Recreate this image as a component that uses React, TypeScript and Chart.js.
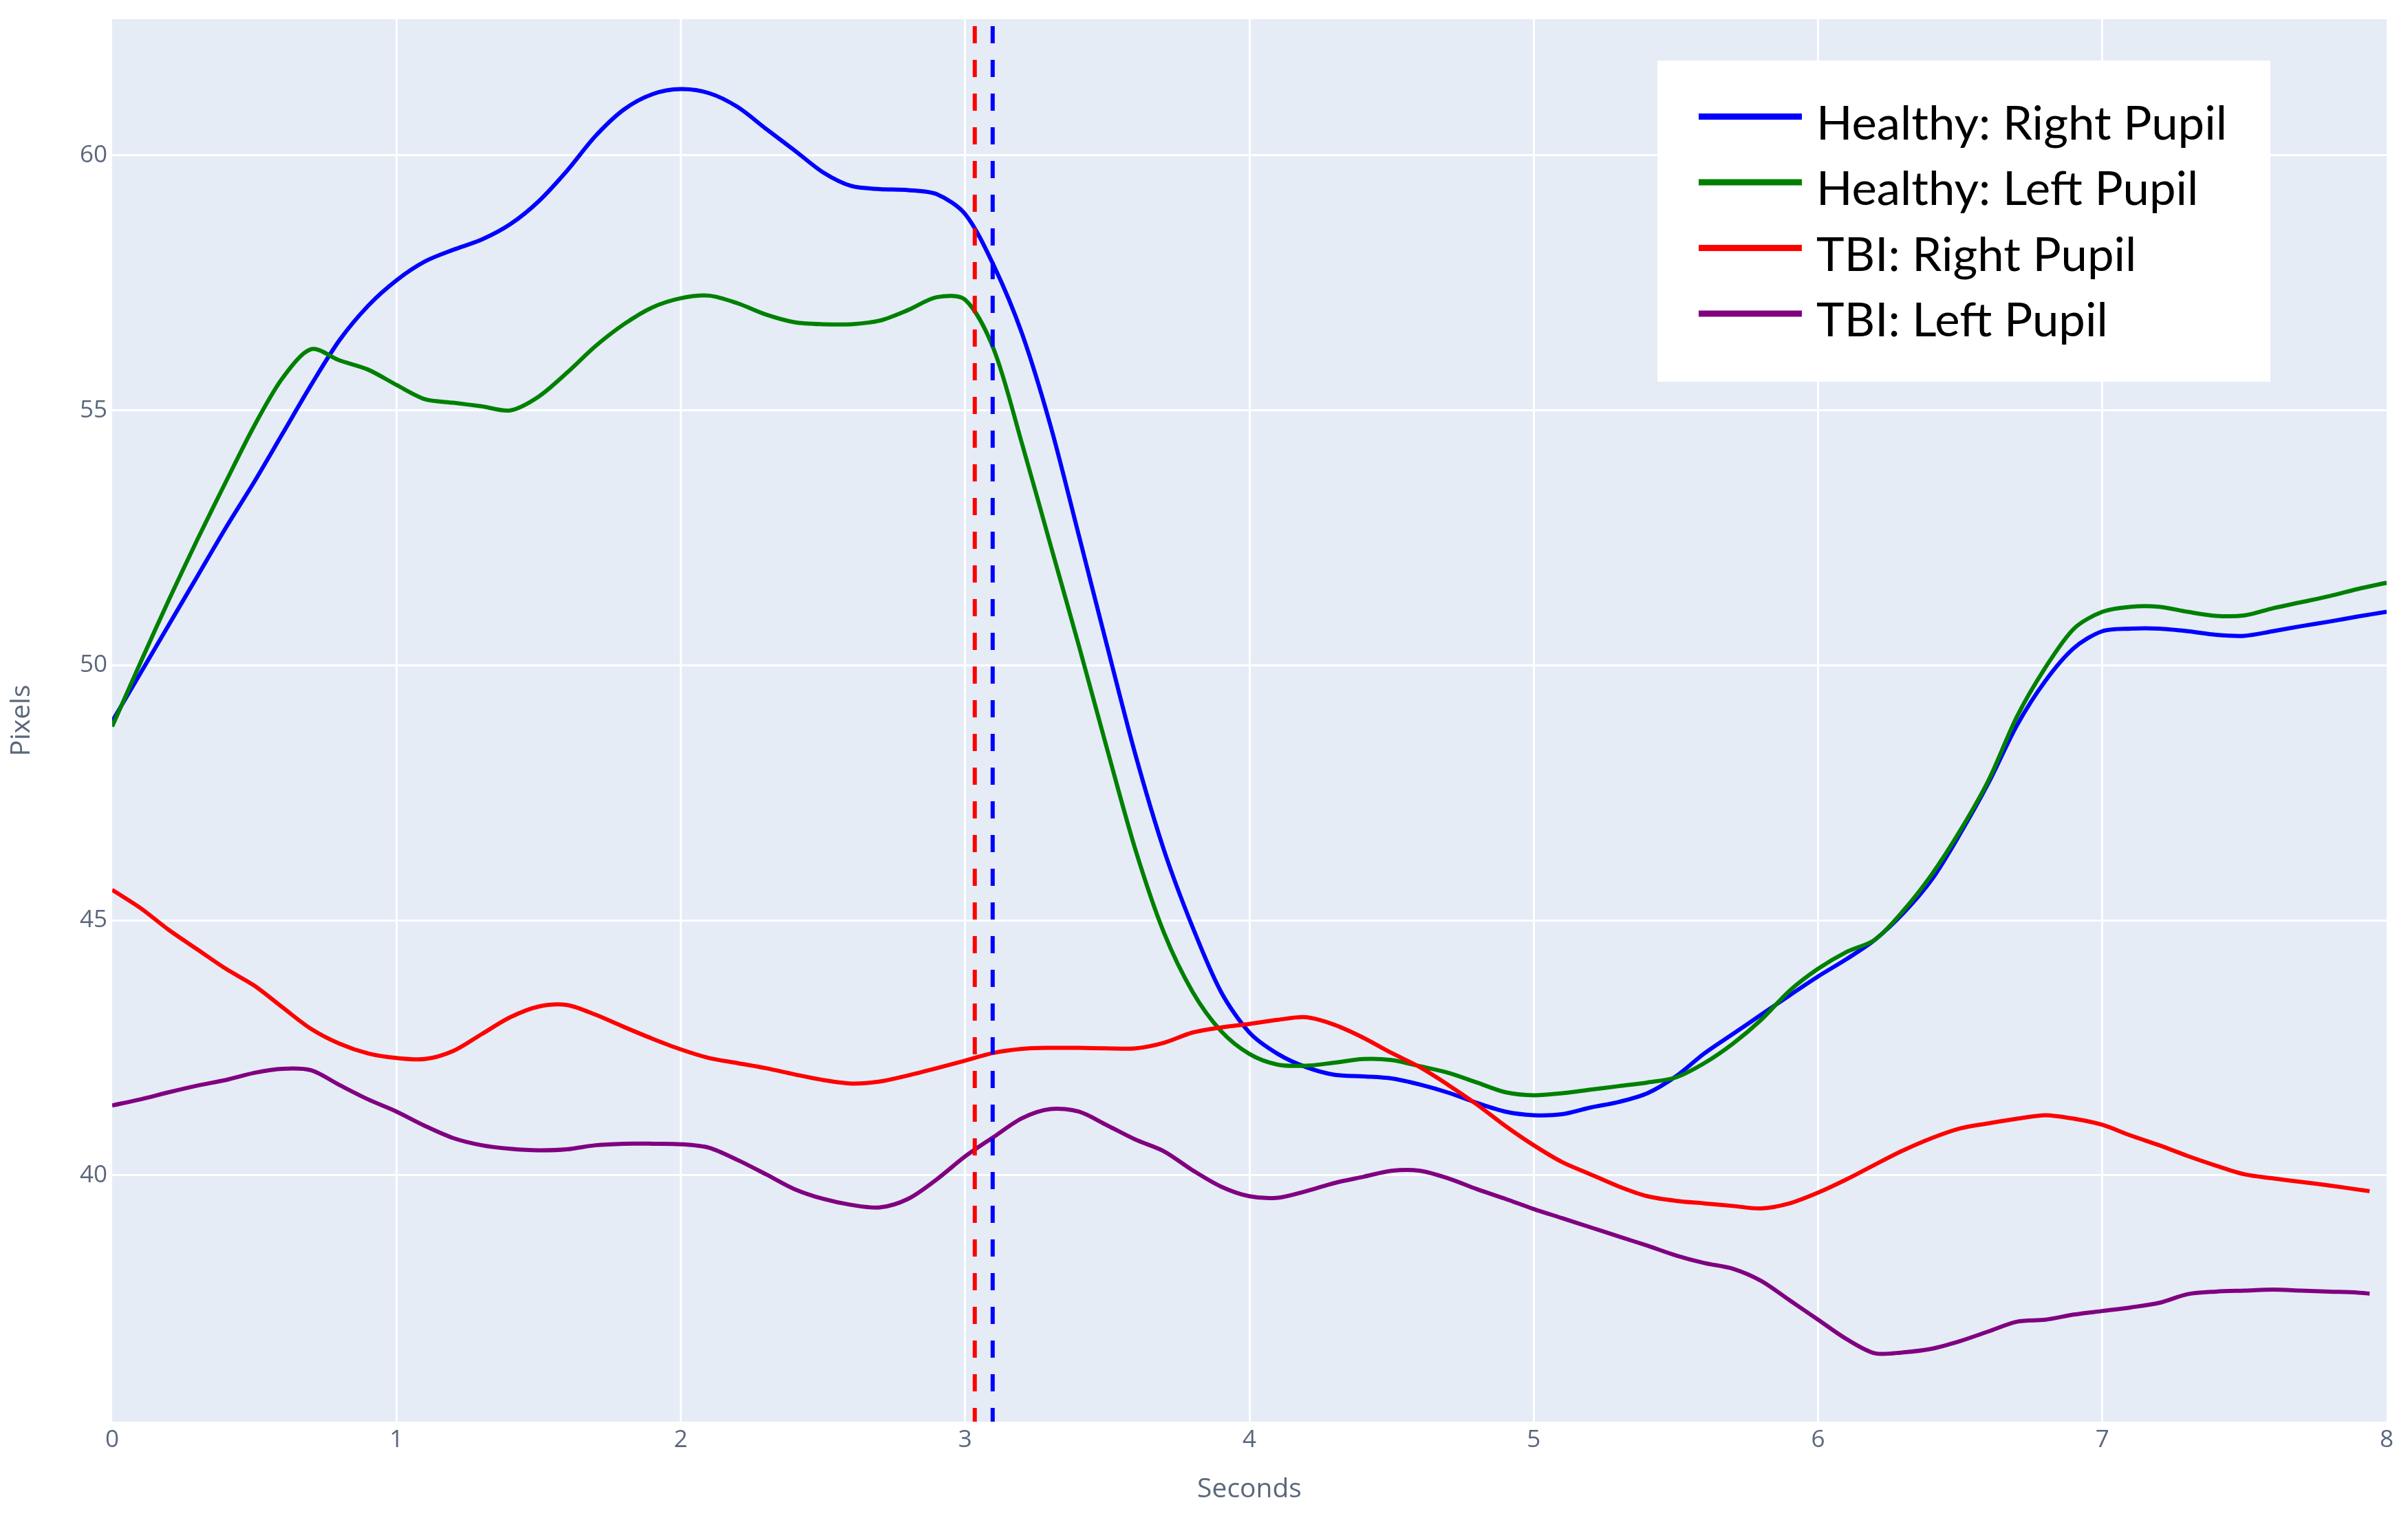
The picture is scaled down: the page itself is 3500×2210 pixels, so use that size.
import React, { useEffect, useRef } from "react";
import { Chart, registerables } from "chart.js";

Chart.register(...registerables);

// ---- data ----
const TIME_HEALTHY = [
  0.0, 0.1, 0.2, 0.3, 0.4, 0.5, 0.6, 0.7, 0.8, 0.9,
  1.0, 1.1, 1.2, 1.3, 1.4, 1.5, 1.6, 1.7, 1.8, 1.9,
  2.0, 2.1, 2.2, 2.3, 2.4, 2.5, 2.6, 2.7, 2.8, 2.9,
  3.0, 3.1, 3.2, 3.3, 3.4, 3.5, 3.6, 3.7, 3.8, 3.9,
  4.0, 4.1, 4.2, 4.3, 4.4, 4.5, 4.6, 4.7, 4.8, 4.9,
  5.0, 5.1, 5.2, 5.3, 5.4, 5.5, 5.6, 5.7, 5.8, 5.9,
  6.0, 6.1, 6.2, 6.3, 6.4, 6.5, 6.6, 6.7, 6.8, 6.9,
  7.0, 7.1, 7.2, 7.3, 7.4, 7.5, 7.6, 7.7, 7.8, 7.9,
  8.0,
];

const HEALTHY_RIGHT = [
  48.9, 49.85, 50.8, 51.75, 52.7, 53.6, 54.55, 55.5, 56.38, 57.05,
  57.55, 57.92, 58.15, 58.35, 58.65, 59.1, 59.7, 60.38, 60.9, 61.2,
  61.3, 61.22, 60.95, 60.52, 60.1, 59.67, 59.4, 59.34, 59.32, 59.24,
  58.85, 57.85, 56.51, 54.71, 52.55, 50.37, 48.23, 46.37, 44.87, 43.6,
  42.8, 42.38, 42.12, 41.97, 41.94, 41.9, 41.78, 41.62, 41.42, 41.25,
  41.18, 41.2, 41.33, 41.44, 41.61, 41.94, 42.39, 42.77, 43.15, 43.53,
  43.9, 44.24, 44.62, 45.14, 45.8, 46.7, 47.7, 48.83, 49.7, 50.34,
  50.67, 50.72, 50.72, 50.67, 50.6, 50.58, 50.67, 50.77, 50.86, 50.96,
  51.05,
];

const HEALTHY_LEFT = [
  48.8, 50.06, 51.29, 52.47, 53.6, 54.7, 55.64, 56.2, 55.98, 55.8,
  55.5, 55.22, 55.15, 55.08, 55.0, 55.27, 55.74, 56.26, 56.69, 57.02,
  57.2, 57.25, 57.1, 56.88, 56.73, 56.69, 56.69, 56.76, 56.97, 57.22,
  57.17, 56.21, 54.35, 52.37, 50.39, 48.35, 46.37, 44.75, 43.6, 42.83,
  42.38, 42.17, 42.15, 42.21, 42.28, 42.26, 42.14, 42.01, 41.82, 41.63,
  41.57, 41.61, 41.68, 41.75, 41.82, 41.92, 42.2, 42.58, 43.05, 43.62,
  44.05, 44.38, 44.62, 45.19, 45.9, 46.76, 47.75, 49.0, 49.96, 50.72,
  51.05, 51.15, 51.15, 51.05, 50.97, 50.98, 51.12, 51.24, 51.36, 51.5,
  51.62,
];

const TIME_TBI = [
  0.0, 0.1, 0.2, 0.3, 0.4, 0.5, 0.6, 0.7, 0.8, 0.9,
  1.0, 1.1, 1.2, 1.3, 1.4, 1.5, 1.6, 1.7, 1.8, 1.9,
  2.0, 2.1, 2.2, 2.3, 2.4, 2.5, 2.6, 2.7, 2.8, 2.9,
  3.0, 3.1, 3.2, 3.3, 3.4, 3.5, 3.6, 3.7, 3.8, 3.9,
  4.0, 4.1, 4.2, 4.3, 4.4, 4.5, 4.6, 4.7, 4.8, 4.9,
  5.0, 5.1, 5.2, 5.3, 5.4, 5.5, 5.6, 5.7, 5.8, 5.9,
  6.0, 6.1, 6.2, 6.3, 6.4, 6.5, 6.6, 6.7, 6.8, 6.9,
  7.0, 7.1, 7.2, 7.3, 7.4, 7.5, 7.6, 7.7, 7.8, 7.9,
  7.94,
];

const TBI_RIGHT = [
  45.6, 45.24, 44.81, 44.43, 44.05, 43.72, 43.29, 42.87, 42.58, 42.39,
  42.3, 42.28, 42.44, 42.77, 43.1, 43.31, 43.34, 43.15, 42.91, 42.68,
  42.47, 42.3, 42.2, 42.1, 41.98, 41.87, 41.8, 41.84, 41.96, 42.1,
  42.25, 42.4, 42.48, 42.5, 42.5, 42.49, 42.49, 42.6, 42.8, 42.9,
  42.97, 43.05, 43.1, 42.95, 42.7, 42.4, 42.12, 41.77, 41.39, 40.97,
  40.59, 40.26, 40.02, 39.78, 39.59, 39.5, 39.45, 39.4, 39.35, 39.45,
  39.66, 39.92, 40.21, 40.49, 40.73, 40.92, 41.02, 41.11, 41.18, 41.11,
  40.99, 40.78, 40.59, 40.38, 40.19, 40.02, 39.94, 39.87, 39.8, 39.72,
  39.69,
];

const TBI_LEFT = [
  41.37, 41.49, 41.63, 41.76, 41.87, 42.01, 42.09, 42.06, 41.77, 41.49,
  41.25, 40.97, 40.73, 40.59, 40.52, 40.49, 40.51, 40.59, 40.62, 40.62,
  40.61, 40.54, 40.3, 40.02, 39.73, 39.54, 39.42, 39.37, 39.54, 39.92,
  40.37, 40.75, 41.12, 41.3, 41.25, 40.98, 40.7, 40.47, 40.1, 39.78,
  39.59, 39.56, 39.69, 39.85, 39.97, 40.09, 40.09, 39.94, 39.73, 39.54,
  39.34, 39.16, 38.98, 38.8, 38.62, 38.43, 38.28, 38.17, 37.93, 37.55,
  37.17, 36.79, 36.51, 36.53, 36.6, 36.75, 36.94, 37.13, 37.17, 37.27,
  37.34, 37.41, 37.5, 37.67, 37.72, 37.74, 37.76, 37.74, 37.72, 37.7,
  37.68,
];

const SERIES_LABELS = [
  "Healthy: Right Pupil",
  "Healthy: Left Pupil",
  "TBI: Right Pupil",
  "TBI: Left Pupil",
];
const SERIES_COLORS = ["#0000ff", "#008000", "#ff0000", "#800080"];

const ONSET_TBI = 3.034; // red dashed marker (s)
const ONSET_HEALTHY = 3.097; // blue dashed marker (s)

const X_TICKS = [0, 1, 2, 3, 4, 5, 6, 7, 8];
const Y_TICKS = [40, 45, 50, 55, 60];
const X_MIN = 0;
const X_MAX = 8;
const Y_MIN = 35.17;
const Y_MAX = 62.67;

const X_TITLE = "Seconds";
const Y_TITLE = "Pixels";

// ---- helpers ----
const toPoints = (xs: number[], ys: number[]) => xs.map((x, i) => ({ x, y: ys[i] }));

const plotBgPlugin = {
  id: "plotBg",
  beforeDraw(chart: any) {
    const { ctx, chartArea } = chart;
    if (!chartArea) return;
    ctx.save();
    ctx.fillStyle = "#e5ecf6";
    ctx.fillRect(chartArea.left, chartArea.top, chartArea.right - chartArea.left, chartArea.bottom - chartArea.top);
    ctx.restore();
  },
};

const boxLegendPlugin = {
  id: "boxLegend",
  afterDraw(chart: any) {
    const ctx = chart.ctx as CanvasRenderingContext2D;
    const items = chart.data.datasets.filter((d: any) => d.inLegend);
    const boxX = 2409;
    const boxY = 88;
    const boxW = 891;
    const boxH = 467;
    ctx.save();
    ctx.fillStyle = "#ffffff";
    ctx.fillRect(boxX, boxY, boxW, boxH);
    const fontSize = 67;
    ctx.font = `${fontSize}px Lato, 'Open Sans', sans-serif`;
    const firstWidth = ctx.measureText(items[0].label).width;
    const squeeze = 597 / firstWidth;
    items.forEach((ds: any, i: number) => {
      const yLine = 169.5 + i * 95.5;
      ctx.strokeStyle = ds.borderColor;
      ctx.lineWidth = 9;
      ctx.lineCap = "butt";
      ctx.beginPath();
      ctx.moveTo(2469, yLine);
      ctx.lineTo(2619, yLine);
      ctx.stroke();
      ctx.save();
      ctx.translate(2640, yLine + 33);
      ctx.scale(squeeze, 1);
      ctx.fillStyle = "#000000";
      ctx.textBaseline = "alphabetic";
      ctx.textAlign = "left";
      ctx.fillText(ds.label, 0, 0);
      ctx.restore();
    });
    ctx.restore();
  },
};

export default function App() {
  const canvasRef = useRef<HTMLCanvasElement | null>(null);

  useEffect(() => {
    const canvas = canvasRef.current;
    if (!canvas) return;

    const curve = (label: string, color: string, xs: number[], ys: number[], order: number) => ({
      label,
      data: toPoints(xs, ys),
      borderColor: color,
      backgroundColor: color,
      borderWidth: 6,
      pointRadius: 0,
      tension: 0.3,
      fill: false,
      order,
      inLegend: true,
    });

    const marker = (label: string, color: string, x: number) => ({
      label,
      data: [
        { x, y: Y_MAX },
        { x, y: Y_MIN },
      ],
      borderColor: color,
      backgroundColor: color,
      borderWidth: 6,
      borderDash: [25, 24],
      borderDashOffset: 39,
      pointRadius: 0,
      tension: 0,
      fill: false,
      order: 0,
      inLegend: false,
    });

    const tickColor = "#5a677c";

    const chart = new Chart(canvas, {
      type: "line",
      data: {
        datasets: [
          curve(SERIES_LABELS[0], SERIES_COLORS[0], TIME_HEALTHY, HEALTHY_RIGHT, 4),
          curve(SERIES_LABELS[1], SERIES_COLORS[1], TIME_HEALTHY, HEALTHY_LEFT, 3),
          curve(SERIES_LABELS[2], SERIES_COLORS[2], TIME_TBI, TBI_RIGHT, 2),
          curve(SERIES_LABELS[3], SERIES_COLORS[3], TIME_TBI, TBI_LEFT, 1),
          marker("TBI onset", SERIES_COLORS[2], ONSET_TBI),
          marker("Healthy onset", SERIES_COLORS[0], ONSET_HEALTHY),
        ] as any,
      },
      options: {
        animation: false,
        responsive: false,
        devicePixelRatio: 1,
        layout: { padding: { top: 20, right: 31, left: 0, bottom: 0 } },
        plugins: {
          legend: { display: false },
          tooltip: { enabled: false },
          title: { display: false },
        },
        scales: {
          x: {
            type: "linear",
            min: X_MIN,
            max: X_MAX,
            afterBuildTicks: (scale: any) => {
              scale.ticks = X_TICKS.map((v) => ({ value: v }));
            },
            afterFit: (scale: any) => {
              scale.height = 143;
            },
            border: { display: false },
            grid: {
              color: (c: any) =>
                c.tick && (c.tick.value === X_MIN || c.tick.value === X_MAX) ? "rgba(0,0,0,0)" : "#ffffff",
              lineWidth: 3,
              drawTicks: false,
            },
            ticks: {
              color: tickColor,
              font: { family: "'Open Sans'", size: 35 },
              padding: 6,
              maxRotation: 0,
              autoSkip: false,
              callback: (v: any) => String(v),
            },
            title: {
              display: true,
              text: X_TITLE,
              color: tickColor,
              font: { family: "'Open Sans'", size: 39 },
              padding: { top: 0, bottom: 21 },
            },
          },
          y: {
            type: "linear",
            min: Y_MIN,
            max: Y_MAX,
            afterBuildTicks: (scale: any) => {
              scale.ticks = Y_TICKS.map((v) => ({ value: v }));
            },
            afterFit: (scale: any) => {
              scale.width = 163;
            },
            border: { display: false },
            grid: {
              color: "#ffffff",
              lineWidth: 3,
              drawTicks: false,
            },
            ticks: {
              color: tickColor,
              font: { family: "'Open Sans'", size: 35 },
              padding: 7,
              autoSkip: false,
              callback: (v: any) => String(v),
            },
            title: {
              display: true,
              text: Y_TITLE,
              color: tickColor,
              font: { family: "'Open Sans'", size: 39 },
              padding: { top: 8, bottom: 0 },
            },
          },
        },
      } as any,
      plugins: [plotBgPlugin, boxLegendPlugin],
    });

    return () => {
      chart.destroy();
    };
  }, []);

  return (
    <div style={{ position: "absolute", left: 0, top: 0, width: 3500, height: 2210, background: "#ffffff" }}>
      <canvas ref={canvasRef} width={3500} height={2210} style={{ width: 3500, height: 2210, display: "block" }} />
    </div>
  );
}
